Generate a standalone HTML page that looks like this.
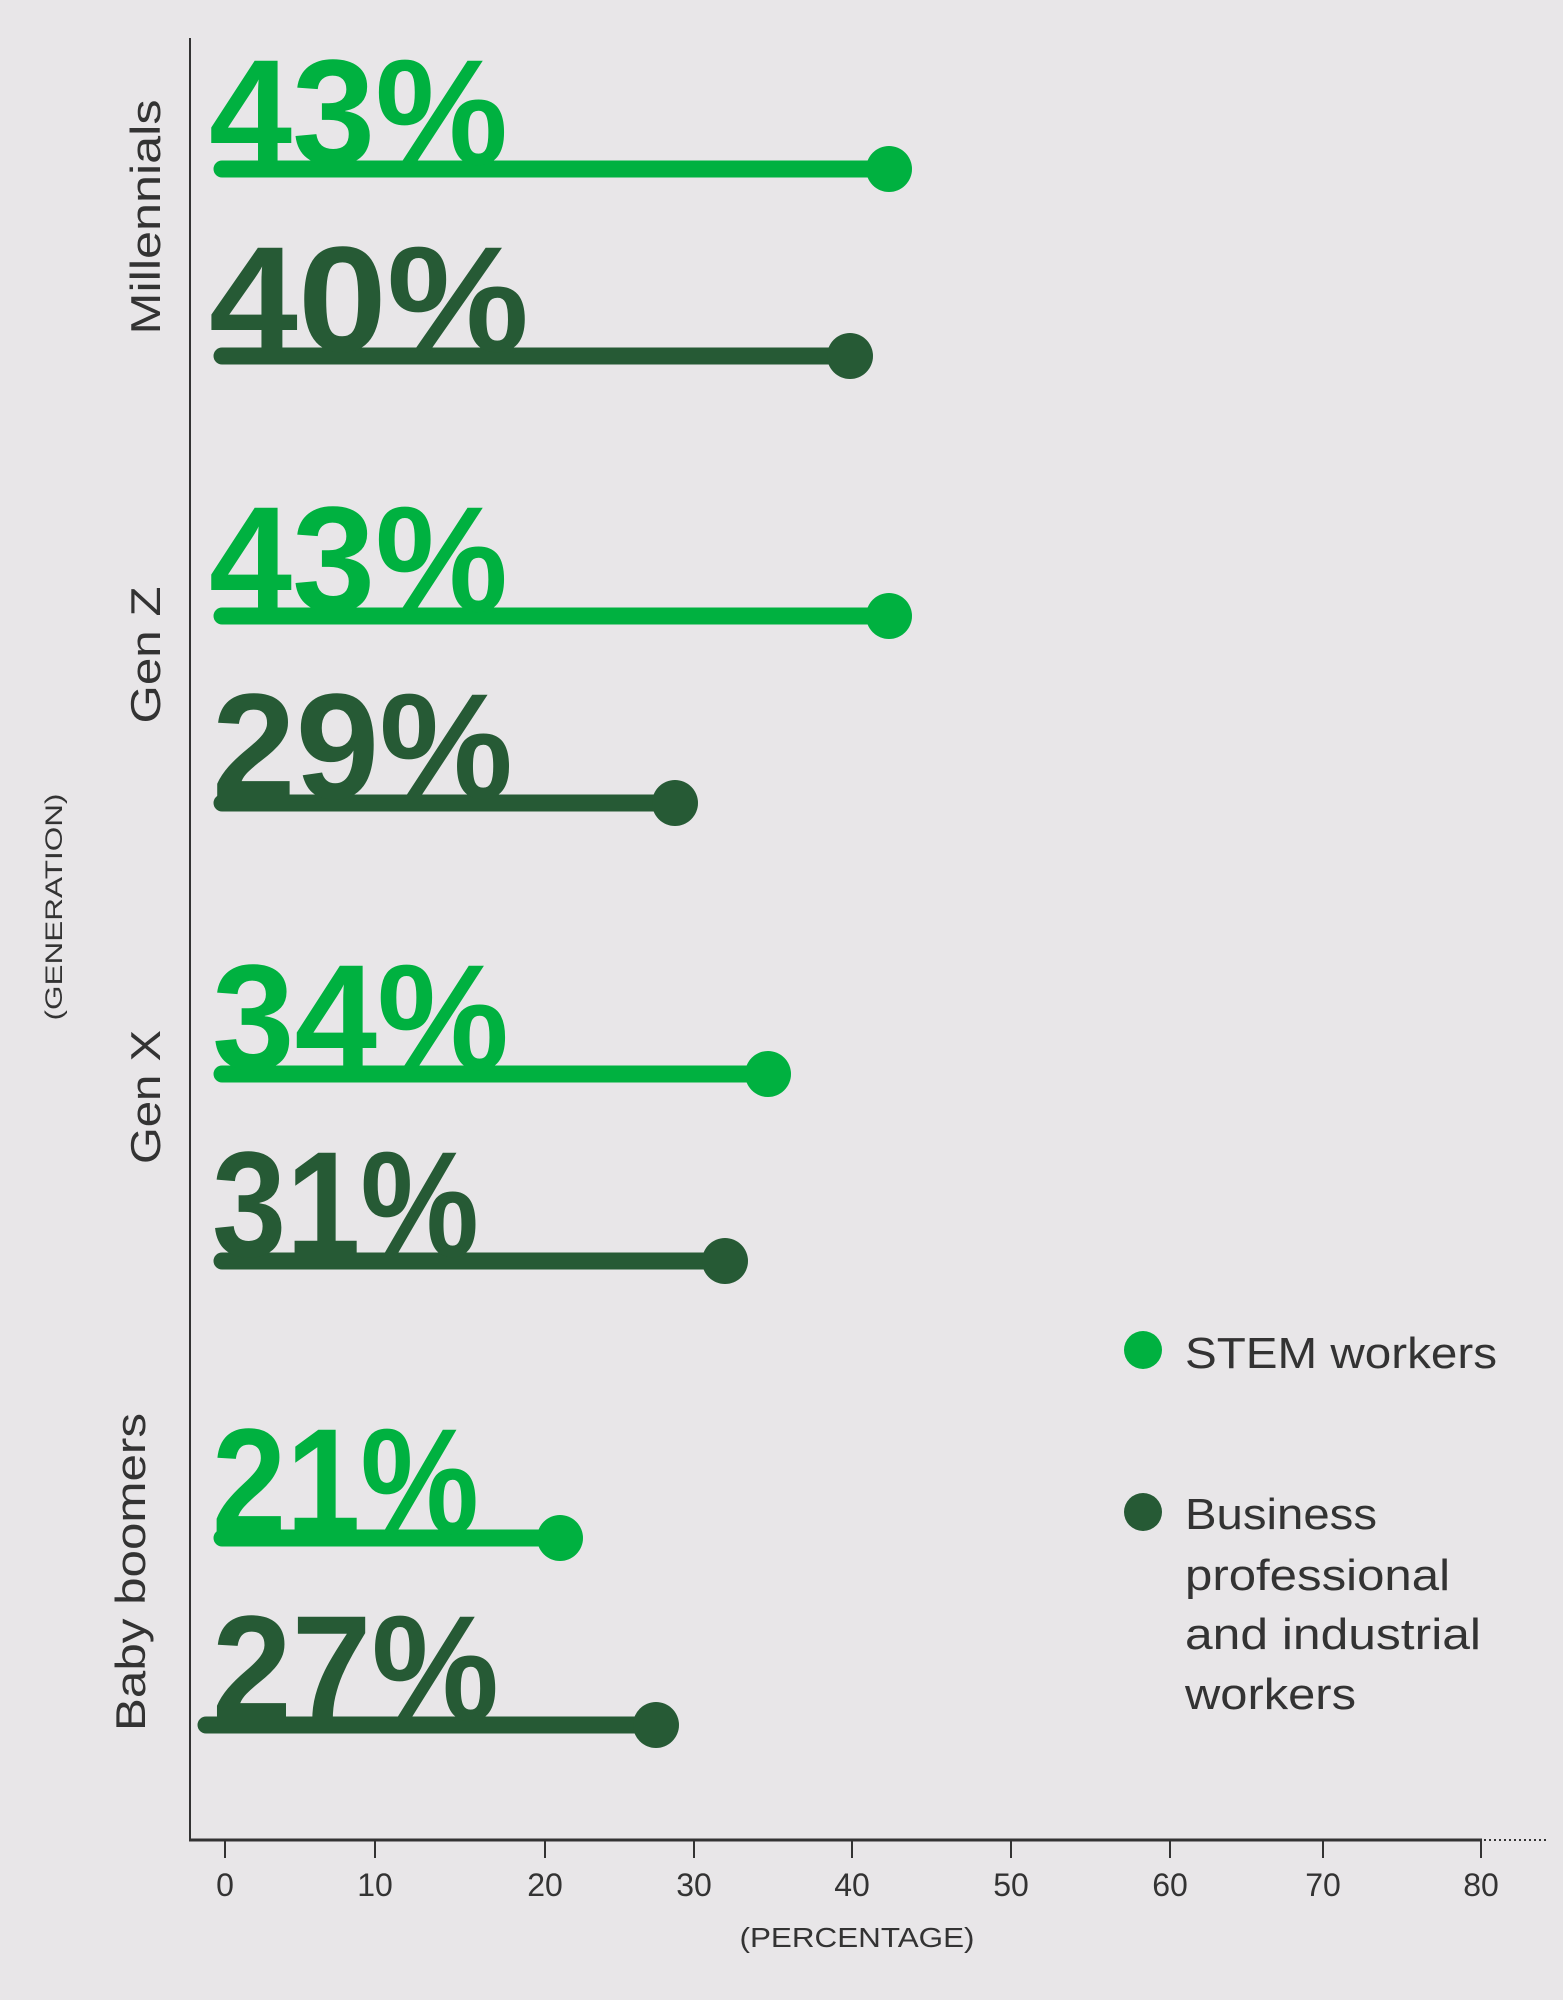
<!DOCTYPE html>
<html><head><meta charset="utf-8"><style>
html,body{margin:0;padding:0;background:#E8E6E8;}
svg{display:block;}
text{font-family:"Liberation Sans",sans-serif;}
</style></head><body>
<svg width="1563" height="2000" viewBox="0 0 1563 2000" xmlns="http://www.w3.org/2000/svg">
<rect width="1563" height="2000" fill="#E8E6E8"/>
<line x1="190" y1="38" x2="190" y2="1841" stroke="#333" stroke-width="2"/>
<line x1="189" y1="1840" x2="1482" y2="1840" stroke="#333" stroke-width="3"/>
<line x1="1484" y1="1840" x2="1548" y2="1840" stroke="#333" stroke-width="2" stroke-dasharray="2,3"/>
<g stroke="#333" stroke-width="2">
<line x1="225" y1="1840" x2="225" y2="1858"/><line x1="375" y1="1840" x2="375" y2="1858"/>
<line x1="545" y1="1840" x2="545" y2="1858"/><line x1="694" y1="1840" x2="694" y2="1858"/>
<line x1="852" y1="1840" x2="852" y2="1858"/><line x1="1011" y1="1840" x2="1011" y2="1858"/>
<line x1="1170" y1="1840" x2="1170" y2="1858"/><line x1="1323" y1="1840" x2="1323" y2="1858"/>
<line x1="1481" y1="1840" x2="1481" y2="1858"/>
</g>
<g fill="#333" font-size="32" text-anchor="middle">
<text x="225" y="1896">0</text><text x="375" y="1896">10</text><text x="545" y="1896">20</text>
<text x="694" y="1896">30</text><text x="852" y="1896">40</text><text x="1011" y="1896">50</text>
<text x="1170" y="1896">60</text><text x="1323" y="1896">70</text><text x="1481" y="1896">80</text>
<text x="857" y="1947" font-size="28" textLength="235" lengthAdjust="spacingAndGlyphs">(PERCENTAGE)</text>
</g>
<g fill="#333" font-size="42" text-anchor="middle">
<text transform="translate(160,217) rotate(-90)" textLength="235" lengthAdjust="spacingAndGlyphs">Millennials</text>
<text transform="translate(160,655) rotate(-90)" textLength="137" lengthAdjust="spacingAndGlyphs">Gen Z</text>
<text transform="translate(160,1097) rotate(-90)" textLength="134" lengthAdjust="spacingAndGlyphs">Gen X</text>
<text transform="translate(145,1572) rotate(-90)" textLength="318" lengthAdjust="spacingAndGlyphs">Baby boomers</text>
<text transform="translate(62,907) rotate(-90)" font-size="24" textLength="227" lengthAdjust="spacingAndGlyphs">(GENERATION)</text>
</g>
<g stroke-linecap="round" stroke-width="17">
<line x1="222" y1="169" x2="889" y2="169" stroke="#00B140"/>
<line x1="222" y1="356" x2="850" y2="356" stroke="#265A35"/>
<line x1="222" y1="616" x2="889" y2="616" stroke="#00B140"/>
<line x1="222" y1="803" x2="675" y2="803" stroke="#265A35"/>
<line x1="222" y1="1074" x2="768" y2="1074" stroke="#00B140"/>
<line x1="222" y1="1261" x2="725" y2="1261" stroke="#265A35"/>
<line x1="222" y1="1538" x2="560" y2="1538" stroke="#00B140"/>
<line x1="206" y1="1725" x2="656" y2="1725" stroke="#265A35"/>
</g>
<circle cx="889" cy="169" r="23" fill="#00B140"/>
<circle cx="850" cy="356" r="23" fill="#265A35"/>
<circle cx="889" cy="616" r="23" fill="#00B140"/>
<circle cx="675" cy="803" r="23" fill="#265A35"/>
<circle cx="768" cy="1074" r="23" fill="#00B140"/>
<circle cx="725" cy="1261" r="23" fill="#265A35"/>
<circle cx="560" cy="1538" r="23" fill="#00B140"/>
<circle cx="656" cy="1725" r="23" fill="#265A35"/>
<g font-size="150" font-weight="bold">
<text x="209" y="164" fill="#00B140" textLength="299" lengthAdjust="spacingAndGlyphs">43%</text>
<text x="209" y="351" fill="#265A35" textLength="320" lengthAdjust="spacingAndGlyphs">40%</text>
<text x="209" y="611" fill="#00B140" textLength="299" lengthAdjust="spacingAndGlyphs">43%</text>
<text x="212" y="798" fill="#265A35" textLength="301" lengthAdjust="spacingAndGlyphs">29%</text>
<text x="212" y="1069" fill="#00B140" textLength="297" lengthAdjust="spacingAndGlyphs">34%</text>
<text x="212" y="1256" fill="#265A35" textLength="267" lengthAdjust="spacingAndGlyphs">31%</text>
<text x="212" y="1533" fill="#00B140" textLength="267" lengthAdjust="spacingAndGlyphs">21%</text>
<text x="212" y="1720" fill="#265A35" textLength="287" lengthAdjust="spacingAndGlyphs">27%</text>
</g>
<circle cx="1143" cy="1350" r="19" fill="#00B140"/>
<circle cx="1143" cy="1512" r="19" fill="#265A35"/>
<g fill="#333" font-size="44">
<text x="1185" y="1368" textLength="312" lengthAdjust="spacingAndGlyphs">STEM workers</text>
<text x="1185" y="1529" textLength="192" lengthAdjust="spacingAndGlyphs">Business</text>
<text x="1185" y="1590" textLength="265" lengthAdjust="spacingAndGlyphs">professional</text>
<text x="1185" y="1649" textLength="296" lengthAdjust="spacingAndGlyphs">and industrial</text>
<text x="1185" y="1709" textLength="171" lengthAdjust="spacingAndGlyphs">workers</text>
</g>
</svg>
</body></html>
